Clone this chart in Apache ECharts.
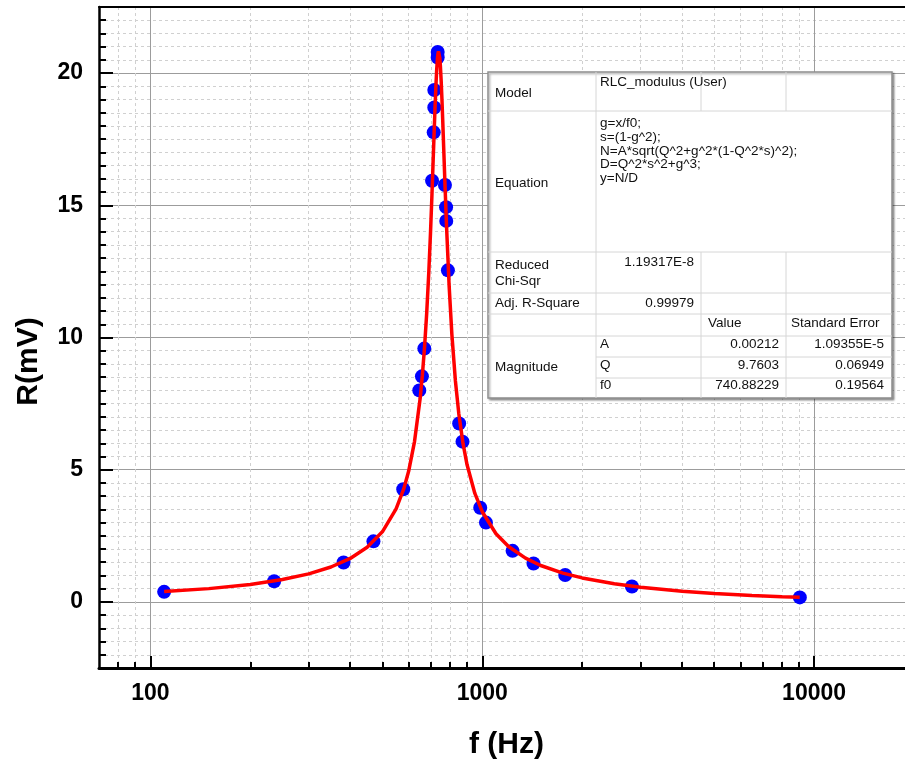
<!DOCTYPE html>
<html>
<head>
<meta charset="utf-8">
<title>RLC modulus fit</title>
<script src="https://cdn.jsdelivr.net/npm/echarts@6/dist/echarts.min.js"></script>
<style>
  html, body { margin: 0; padding: 0; background: #fff; }
  #chart { width: 905px; height: 761px; }
</style>
</head>
<body>
<div id="chart"></div>
<script>
// measured points (f in Hz, R in mV)
const measFreq = [110, 236, 382, 470, 578, 646, 658, 669, 706, 714, 717, 717, 734, 734,
  772, 778, 779, 788, 852, 872, 986, 1026, 1234, 1427, 1778, 2825, 9057];
const measR = [0.38, 0.78, 1.49, 2.29, 4.26, 8.00, 8.53, 9.58, 15.93, 17.76, 18.70, 19.36, 20.59, 20.80,
  15.77, 14.93, 14.41, 12.54, 6.75, 6.06, 3.56, 3.00, 1.93, 1.45, 1.02, 0.58, 0.17];

// fitted curve
const fitFreq = [110, 150, 200, 250, 300, 350, 400, 450, 500, 550, 580, 600, 625, 650, 660, 670, 680,
  690, 698, 705, 715, 720, 725, 729, 733, 735, 738, 741, 745, 748, 752, 756, 760, 765, 770, 780,
  795, 810, 830, 850, 875, 900, 950, 1000, 1100, 1200, 1350, 1500, 1750, 2000, 2500, 3000, 4000,
  5000, 6500, 8000, 9050];
const fitR = [0.391, 0.502, 0.660, 0.844, 1.059, 1.319, 1.644, 2.067, 2.650, 3.515, 4.272, 4.940,
  6.063, 7.700, 8.576, 9.629, 10.903, 12.448, 13.901, 15.325, 17.506, 18.567, 19.517, 20.134,
  20.573, 20.715, 20.821, 20.797, 20.565, 20.257, 19.697, 19.010, 18.240, 17.225, 16.206, 14.289,
  11.911, 10.107, 8.358, 7.110, 5.993, 5.185, 4.102, 3.411, 2.579, 2.095, 1.654, 1.377, 1.089,
  0.907, 0.687, 0.556, 0.406, 0.321, 0.245, 0.198, 0.175];

// axis ticks
const xMajorTicks = [100, 1000, 10000];
const xMinorTicks = [80, 90, 200, 300, 400, 500, 600, 700, 800, 900,
  2000, 3000, 4000, 5000, 6000, 7000, 8000, 9000];
const yMajorTicks = [0, 5, 10, 15, 20];

// fit report table
const modelName = 'RLC_modulus (User)';
const equationLines = ['g=x/f0;', 's=(1-g^2);', 'N=A*sqrt(Q^2+g^2*(1-Q^2*s)^2);', 'D=Q^2*s^2+g^3;', 'y=N/D'];
const chiSqr = '1.19317E-8';
const adjR2 = '0.99979';
const paramNames = ['A', 'Q', 'f0'];
const paramValues = ['0.00212', '9.7603', '740.88229'];
const paramErrors = ['1.09355E-5', '0.06949', '0.19564'];

const FONT = 'Arial, "Liberation Sans", sans-serif';

const chart = echarts.init(document.getElementById('chart'));

// table drawn with graphic elements
const tx = [488, 596, 701, 786, 892];
const ty = [72, 111, 252, 293, 314, 336, 357, 378, 398];
const gridCol = '#d6d6d6';
const tableEls = [];

tableEls.push({
  type: 'rect', z: 100,
  shape: { x: tx[0], y: ty[0], width: tx[4] - tx[0], height: ty[8] - ty[0] },
  style: { fill: '#fff', stroke: '#8f8f8f', lineWidth: 1.5,
    shadowColor: 'rgba(0,0,0,0.35)', shadowBlur: 2, shadowOffsetX: 1.5, shadowOffsetY: 1.5 }
});
function hline(x1, x2, y) {
  tableEls.push({ type: 'line', z: 101, shape: { x1: x1, y1: y, x2: x2, y2: y },
    style: { stroke: gridCol, lineWidth: 1 } });
}
function vline(x, y1, y2) {
  tableEls.push({ type: 'line', z: 101, shape: { x1: x, y1: y1, x2: x, y2: y2 },
    style: { stroke: gridCol, lineWidth: 1 } });
}
[1, 2, 3, 4, 5].forEach(i => hline(tx[0], tx[4], ty[i]));
[6, 7].forEach(i => hline(tx[1], tx[4], ty[i]));
vline(tx[1], ty[0], ty[8]);
vline(tx[2], ty[0], ty[1]);
vline(tx[3], ty[0], ty[1]);
vline(tx[2], ty[2], ty[8]);
vline(tx[3], ty[2], ty[8]);

function txt(s, x, y, align, vAlign, extra) {
  tableEls.push(Object.assign({
    type: 'text', z: 102, x: x, y: y,
    style: { text: s, fill: '#111', fontSize: 13.5, fontFamily: FONT,
      align: align, textAlign: align, verticalAlign: vAlign || 'middle', textVerticalAlign: vAlign || 'middle' }
  }, extra || {}));
}
txt('Model', 495, 93, 'left');
txt(modelName, 600, 82, 'left');
tableEls.push({
  type: 'text', z: 102, x: 600, y: 116.5,
  style: { text: equationLines.join('\n'), fill: '#111', fontSize: 13.5, fontFamily: FONT,
    lineHeight: 13.75, align: 'left', textAlign: 'left', verticalAlign: 'top', textVerticalAlign: 'top' }
});
txt('Equation', 495, 183, 'left');
txt('Reduced', 495, 265, 'left');
txt('Chi-Sqr', 495, 281, 'left');
txt(chiSqr, 694, 262, 'right');
txt('Adj. R-Square', 495, 303, 'left');
txt(adjR2, 694, 303, 'right');
txt('Value', 708, 323, 'left');
txt('Standard Error', 791, 323, 'left');
txt('Magnitude', 495, 367, 'left');
const rowY = [344, 365, 385];
paramNames.forEach((n, i) => {
  txt(n, 600, rowY[i], 'left');
  txt(paramValues[i], 779, rowY[i], 'right');
  txt(paramErrors[i], 884, rowY[i], 'right');
});

const logRange = { type: 'log', logBase: 10, min: 70, max: 20000 };

const option = {
  animation: false,
  backgroundColor: '#fff',
  grid: { left: 99, top: 7, right: -9, bottom: 93, containLabel: false, outerBoundsMode: 'none' },
  xAxis: [
    // minor ticks + dashed grid
    Object.assign({}, logRange, {
      position: 'bottom',
      axisLine: { show: false, onZero: false },
      axisLabel: { show: false },
      axisTick: { show: true, inside: true, length: 6, customValues: xMinorTicks,
        lineStyle: { color: '#000', width: 2 } },
      splitLine: { show: true, lineStyle: { color: '#d0d0d0', type: [3, 3], width: 1 } }
    }),
    // major ticks, labels, name
    Object.assign({}, logRange, {
      position: 'bottom',
      name: 'f (Hz)', nameLocation: 'middle', nameGap: 62,
      nameTextStyle: { fontSize: 30, fontWeight: 'bold', color: '#000', fontFamily: FONT },
      axisLine: { show: true, onZero: false, lineStyle: { color: '#000', width: 3 } },
      axisLabel: { customValues: xMajorTicks, fontSize: 23, fontWeight: 'bold', color: '#000',
        fontFamily: FONT, margin: 14, formatter: v => String(Math.round(v)) },
      axisTick: { show: true, inside: true, length: 12, customValues: xMajorTicks,
        lineStyle: { color: '#000', width: 2 } },
      splitLine: { show: true, lineStyle: { color: '#9c9c9c', width: 1 } }
    }),
    // top frame line
    Object.assign({}, logRange, {
      position: 'top',
      axisLine: { show: true, onZero: false, lineStyle: { color: '#000', width: 2 } },
      axisLabel: { show: false }, axisTick: { show: false }, splitLine: { show: false }
    })
  ],
  yAxis: [
    {
      type: 'value', min: -2.5, max: 22.5, interval: 0.5, position: 'left',
      axisLine: { show: false, onZero: false },
      axisLabel: { show: false },
      axisTick: { show: true, inside: true, length: 7, lineStyle: { color: '#000', width: 2 } },
      splitLine: { show: true, lineStyle: { color: '#d0d0d0', type: [3, 3], width: 1 } }
    },
    {
      type: 'value', min: -2.5, max: 22.5, position: 'left',
      name: 'R(mV)', nameLocation: 'middle', nameGap: 55,
      nameTextStyle: { fontSize: 30, fontWeight: 'bold', color: '#000', fontFamily: FONT,
        padding: [0, 48, 0, 0] },
      axisLine: { show: true, onZero: false, lineStyle: { color: '#000', width: 2.5 } },
      axisLabel: { customValues: yMajorTicks, fontSize: 23, fontWeight: 'bold', color: '#000',
        fontFamily: FONT, margin: 16 },
      axisTick: { show: true, inside: true, length: 14, customValues: yMajorTicks,
        lineStyle: { color: '#000', width: 2 } },
      splitLine: { show: true, lineStyle: { color: '#9c9c9c', width: 1 } }
    }
  ],
  series: [
    {
      name: 'data', type: 'scatter', xAxisIndex: 1, yAxisIndex: 1, z: 3,
      symbolSize: 14, itemStyle: { color: '#0000ff', opacity: 1 },
      data: measFreq.map((f, i) => [f, measR[i]])
    },
    {
      name: 'fit', type: 'line', xAxisIndex: 1, yAxisIndex: 1, z: 4,
      symbol: 'none', lineStyle: { color: '#ff0000', width: 3.5 },
      data: fitFreq.map((f, i) => [f, fitR[i]])
    }
  ],
  graphic: { elements: tableEls }
};

chart.setOption(option);
</script>
</body>
</html>
